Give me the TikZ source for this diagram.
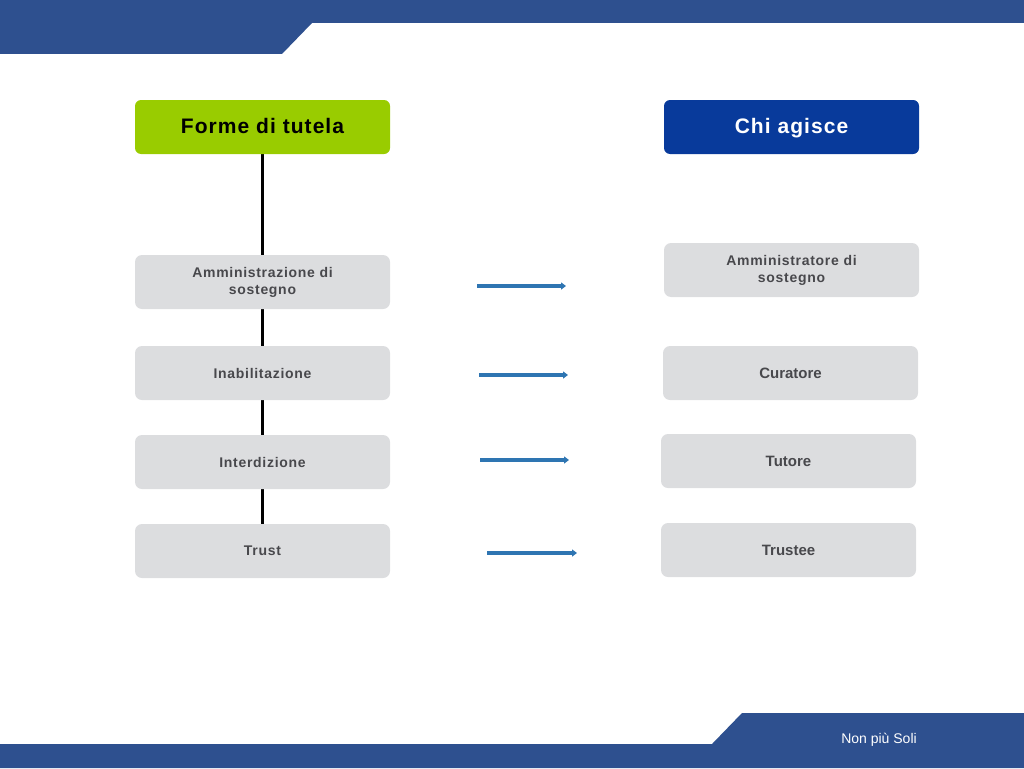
\documentclass[tikz,border=0pt]{standalone}
\usepackage{fontspec}
\setmainfont{Liberation Sans}
\usetikzlibrary{arrows.meta,backgrounds}
\definecolor{band}{RGB}{46,80,143}
\definecolor{grn}{RGB}{153,204,0}
\definecolor{hblue}{RGB}{8,58,155}
\definecolor{boxgray}{RGB}{220,221,223}
\definecolor{txtgray}{RGB}{72,72,76}
\definecolor{arr}{RGB}{46,117,178}
\tikzset{
  head/.style={rounded corners=6pt, minimum width=255pt, minimum height=54pt, inner sep=0pt, text height=15pt, text depth=3pt, font=\fontsize{21}{24}\selectfont\bfseries\addfontfeature{LetterSpace=5}},
  leftbox/.style={rounded corners=7pt, fill=boxgray, minimum width=255pt, minimum height=54pt, inner sep=0pt, align=center, text=txtgray, font=\fontsize{14}{17}\selectfont\bfseries\addfontfeature{LetterSpace=5}},
  rightbox/.style={rounded corners=7pt, fill=boxgray, minimum width=255pt, minimum height=54pt, inner sep=0pt, align=center, text=txtgray, font=\fontsize{15}{17}\selectfont\bfseries},
  arrowline/.style={draw=arr, line width=3.5pt, -{Triangle[length=5pt,width=7pt]}},
  spine/.style={draw=black, line width=3pt}
}
\begin{document}
\begin{tikzpicture}[x=1pt,y=-1pt]
\useasboundingbox (0,0) rectangle (1024,768);
% banners
\fill[band] (0,0) -- (1024,0) -- (1024,23) -- (312,23) -- (282,54) -- (0,54) -- cycle;
\fill[band] (0,768) -- (0,744) -- (712,744) -- (742,713) -- (1024,713) -- (1024,768) -- cycle;
\node[text=white, font=\fontsize{14}{16}\selectfont] (foot) at (879,740) {Non più Soli};
% headers
\node[head, fill=grn, text=black] (forme) at (262.5,127) {Forme di tutela};
\node[head, fill=hblue, text=white] (chi) at (791.5,127) {Chi agisce};
% left boxes
\node[leftbox] (amm) at (262.5,282) {Amministrazione di\\sostegno};
\node[leftbox] (inab) at (262.5,373) {Inabilitazione};
\node[leftbox] (interd) at (262.5,462) {Interdizione};
\node[leftbox] (trust) at (262.5,551) {Trust};
% right boxes
\node[rightbox, font=\fontsize{14}{17}\selectfont\bfseries\addfontfeature{LetterSpace=5}] (ammr) at (791.5,270) {Amministratore di\\sostegno};
\node[rightbox] (cur) at (790.5,373) {Curatore};
\node[rightbox] (tut) at (788.5,461) {Tutore};
\node[rightbox] (trustee) at (788.5,550) {Trustee};
% spine
\begin{scope}[on background layer]
\draw[spine] (forme.south) -- (trust.north);
\end{scope}
% arrows
\coordinate (a1s) at (477,286); \coordinate (a1e) at (566,286);
\coordinate (a2s) at (479,375); \coordinate (a2e) at (568,375);
\coordinate (a3s) at (480,460); \coordinate (a3e) at (569,460);
\coordinate (a4s) at (487,553); \coordinate (a4e) at (577,553);
\draw[arrowline] (a1s) -- (a1e);
\draw[arrowline] (a2s) -- (a2e);
\draw[arrowline] (a3s) -- (a3e);
\draw[arrowline] (a4s) -- (a4e);
\end{tikzpicture}
\end{document}
